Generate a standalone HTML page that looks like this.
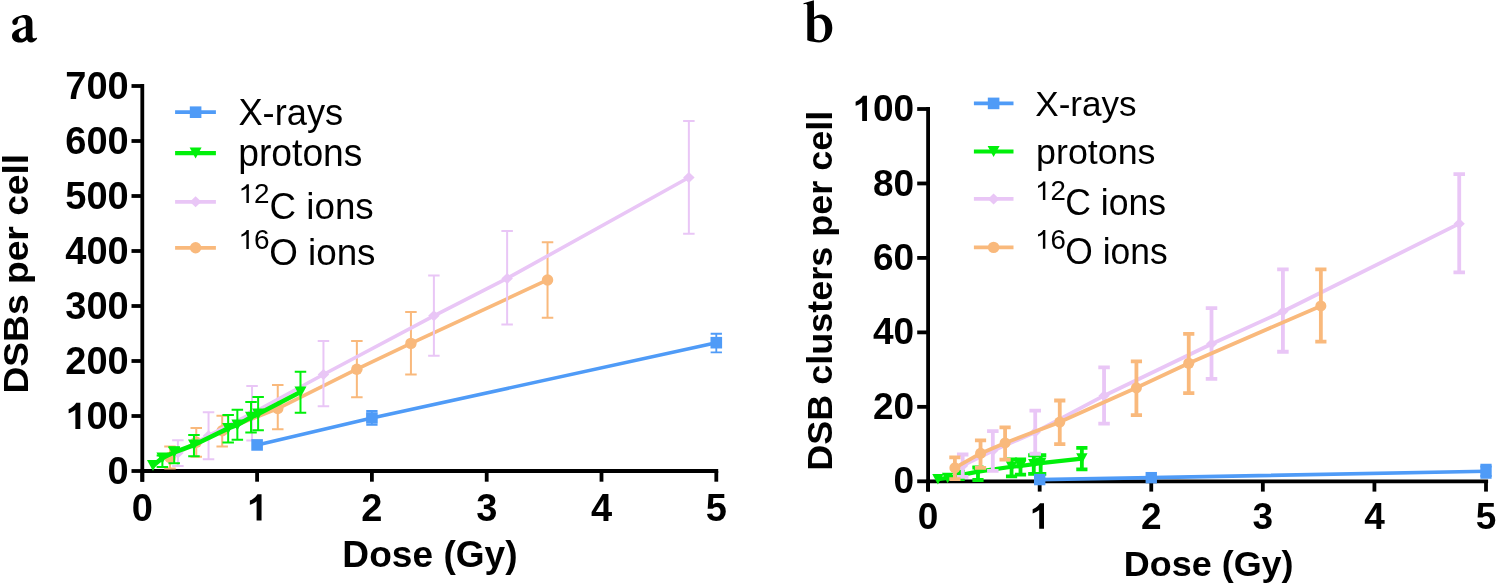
<!DOCTYPE html>
<html><head><meta charset="utf-8"><title>DSB chart</title>
<style>html,body{margin:0;padding:0;background:#fff;}svg{display:block;will-change:transform;}</style>
</head><body>
<svg width="1496" height="585" viewBox="0 0 1496 585">
<rect width="1496" height="585" fill="#fff"/>
<g transform="matrix(0.9766,0,0,0.9722,342.37,566.82)"><text x="0" y="0" font-family="'Liberation Sans', sans-serif" font-weight="bold" font-size="38">Dose (Gy)</text></g>
<g transform="matrix(0,-0.9787,0.9417,0,28.07,393.54)"><text x="0" y="0" font-family="'Liberation Sans', sans-serif" font-weight="bold" font-size="38">DSBs per cell</text></g>
<g transform="matrix(0.9542,0,0,0.9629,238.45,125.00)"><text x="0" y="0" font-family="'Liberation Sans', sans-serif" font-weight="normal" font-size="38">X-rays</text></g>
<g transform="matrix(0.9795,0,0,0.9970,238.26,166.02)"><text x="0" y="0" font-family="'Liberation Sans', sans-serif" font-weight="normal" font-size="38">protons</text></g>
<g transform="matrix(1.0720,0,0,1.0444,238.48,202.90)"><path transform="matrix(0.02600,0,0,-0.02600,0,0)" d="M373,0H285V548C250,515 190,478 109,450V533C165,555 222,592 258,632C275,651 288,670 297,688H373Z"/><text x="14.46" y="0" font-family="'Liberation Sans', sans-serif" font-weight="normal" font-size="26">2</text></g>
<g transform="matrix(0.9673,0,0,0.9750,269.57,218.80)"><text x="0" y="0" font-family="'Liberation Sans', sans-serif" font-weight="normal" font-size="38">C ions</text></g>
<g transform="matrix(1.0760,0,0,1.0611,238.37,249.10)"><path transform="matrix(0.02600,0,0,-0.02600,0,0)" d="M373,0H285V548C250,515 190,478 109,450V533C165,555 222,592 258,632C275,651 288,670 297,688H373Z"/><text x="14.46" y="0" font-family="'Liberation Sans', sans-serif" font-weight="normal" font-size="26">6</text></g>
<g transform="matrix(0.9689,0,0,0.9821,269.16,264.50)"><text x="0" y="0" font-family="'Liberation Sans', sans-serif" font-weight="normal" font-size="38">O ions</text></g>
<g transform="matrix(0.9719,0,0,0.9543,1123.76,575.57)"><text x="0" y="0" font-family="'Liberation Sans', sans-serif" font-weight="bold" font-size="37">Dose (Gy)</text></g>
<g transform="matrix(0,-0.9730,0.9486,0,831.71,470.85)"><text x="0" y="0" font-family="'Liberation Sans', sans-serif" font-weight="bold" font-size="37">DSB clusters per cell</text></g>
<g transform="matrix(0.9486,0,0,0.9676,1035.25,115.66)"><text x="0" y="0" font-family="'Liberation Sans', sans-serif" font-weight="normal" font-size="37">X-rays</text></g>
<g transform="matrix(0.9675,0,0,0.9697,1036.07,163.94)"><text x="0" y="0" font-family="'Liberation Sans', sans-serif" font-weight="normal" font-size="37">protons</text></g>
<g transform="matrix(1.0640,0,0,1.0389,1035.01,200.10)"><path transform="matrix(0.02600,0,0,-0.02600,0,0)" d="M373,0H285V548C250,515 190,478 109,450V533C165,555 222,592 258,632C275,651 288,670 297,688H373Z"/><text x="14.46" y="0" font-family="'Liberation Sans', sans-serif" font-weight="normal" font-size="26">2</text></g>
<g transform="matrix(0.9608,0,0,1.0111,1065.28,215.40)"><text x="0" y="0" font-family="'Liberation Sans', sans-serif" font-weight="normal" font-size="37">C ions</text></g>
<g transform="matrix(1.0640,0,0,1.0389,1035.01,248.70)"><path transform="matrix(0.02600,0,0,-0.02600,0,0)" d="M373,0H285V548C250,515 190,478 109,450V533C165,555 222,592 258,632C275,651 288,670 297,688H373Z"/><text x="14.46" y="0" font-family="'Liberation Sans', sans-serif" font-weight="normal" font-size="26">6</text></g>
<g transform="matrix(0.9577,0,0,0.9852,1065.28,263.60)"><text x="0" y="0" font-family="'Liberation Sans', sans-serif" font-weight="normal" font-size="37">O ions</text></g>
<path fill="#000" fill-rule="evenodd" d="M803.5,3.2L813.9,0.3L814.1,17.3C816,15.6 818.5,14.5 821,14.5C827.5,14.5 832.3,20 832.3,28C832.3,36.5 826.5,42.4 819,42.4C815.5,42.4 811,41.6 807.3,40.3L807.3,5.8C807.3,4.6 806.5,4.1 805.2,4.1L803.5,4.2ZM814.2,19.3C815.5,18.4 817,18 818.5,18C822.8,18 825.3,22 825.3,29C825.3,36.5 823,40.3 819.5,40.3C817.3,40.3 815.3,39.4 814.2,38.3Z"/>
<path fill="#000" fill-rule="evenodd" d="M12.3,22C12.3,19.5 15.5,17.5 19.1,16.2C21.5,15.3 23,15 24.5,15C29.5,15 32.4,17.5 32.4,22.5L32.5,36.5C32.5,37.8 33.3,38.3 34.2,38.3C35,38.3 35.8,37.9 36.4,37.4L37.2,38.5C35.8,40.6 33.6,42.5 31,42.5C29,42.5 27.6,41.2 27.1,39.4C25.5,41.3 23,42.6 19.8,42.6C15.2,42.6 12,40 12,36.3C12,32.3 15.3,30 20,28.5L25.8,26.3L25.8,22.5C25.8,19.3 24.5,17.5 22,17.5C20,17.5 18.3,18.5 17.9,20.5C17.9,23.2 17,25 14.8,25C13.2,25 12.3,23.7 12.3,22ZM25.8,28.2L25.8,36.2C24.8,37.8 23.5,38.7 22,38.7C20.2,38.7 18.8,37.2 18.8,34.6C18.8,31.6 21,29.8 25.8,28.2Z"/>
<g stroke="#000" fill="none" stroke-width="3.8">
<path d="M142.3,84.1V481.7"/>
<path d="M140.4,471.0H718.2"/>
<path d="M131.5,471H142.3"/>
<path d="M131.5,416H142.3"/>
<path d="M131.5,361H142.3"/>
<path d="M131.5,306H142.3"/>
<path d="M131.5,251H142.3"/>
<path d="M131.5,196H142.3"/>
<path d="M131.5,141H142.3"/>
<path d="M131.5,86H142.3"/>
<path d="M142.3,471.0V481.7"/>
<path d="M257.1,471.0V481.7"/>
<path d="M371.9,471.0V481.7"/>
<path d="M486.7,471.0V481.7"/>
<path d="M601.5,471.0V481.7"/>
<path d="M716.3,471.0V481.7"/>
</g>
<g fill="#000">
<text x="107.57" y="484" font-family="'Liberation Sans', sans-serif" font-weight="bold" font-size="38">0</text>
<path transform="matrix(0.03800,0,0,-0.03800,65.3,429)" d="M395,0H265V505C215,462 150,430 88,413V526C140,546 195,580 232,620C258,648 275,670 288,688H395Z"/><text x="86.43" y="429" font-family="'Liberation Sans', sans-serif" font-weight="bold" font-size="38">0</text><text x="107.57" y="429" font-family="'Liberation Sans', sans-serif" font-weight="bold" font-size="38">0</text>
<text x="65.3" y="374" font-family="'Liberation Sans', sans-serif" font-weight="bold" font-size="38">2</text><text x="86.43" y="374" font-family="'Liberation Sans', sans-serif" font-weight="bold" font-size="38">0</text><text x="107.57" y="374" font-family="'Liberation Sans', sans-serif" font-weight="bold" font-size="38">0</text>
<text x="65.3" y="319" font-family="'Liberation Sans', sans-serif" font-weight="bold" font-size="38">3</text><text x="86.43" y="319" font-family="'Liberation Sans', sans-serif" font-weight="bold" font-size="38">0</text><text x="107.57" y="319" font-family="'Liberation Sans', sans-serif" font-weight="bold" font-size="38">0</text>
<text x="65.3" y="264" font-family="'Liberation Sans', sans-serif" font-weight="bold" font-size="38">4</text><text x="86.43" y="264" font-family="'Liberation Sans', sans-serif" font-weight="bold" font-size="38">0</text><text x="107.57" y="264" font-family="'Liberation Sans', sans-serif" font-weight="bold" font-size="38">0</text>
<text x="65.3" y="209" font-family="'Liberation Sans', sans-serif" font-weight="bold" font-size="38">5</text><text x="86.43" y="209" font-family="'Liberation Sans', sans-serif" font-weight="bold" font-size="38">0</text><text x="107.57" y="209" font-family="'Liberation Sans', sans-serif" font-weight="bold" font-size="38">0</text>
<text x="65.3" y="154" font-family="'Liberation Sans', sans-serif" font-weight="bold" font-size="38">6</text><text x="86.43" y="154" font-family="'Liberation Sans', sans-serif" font-weight="bold" font-size="38">0</text><text x="107.57" y="154" font-family="'Liberation Sans', sans-serif" font-weight="bold" font-size="38">0</text>
<text x="65.3" y="99" font-family="'Liberation Sans', sans-serif" font-weight="bold" font-size="38">7</text><text x="86.43" y="99" font-family="'Liberation Sans', sans-serif" font-weight="bold" font-size="38">0</text><text x="107.57" y="99" font-family="'Liberation Sans', sans-serif" font-weight="bold" font-size="38">0</text>
<text x="131.73" y="520.5" font-family="'Liberation Sans', sans-serif" font-weight="bold" font-size="38">0</text>
<path transform="matrix(0.03800,0,0,-0.03800,246.53,520.5)" d="M395,0H265V505C215,462 150,430 88,413V526C140,546 195,580 232,620C258,648 275,670 288,688H395Z"/>
<text x="361.33" y="520.5" font-family="'Liberation Sans', sans-serif" font-weight="bold" font-size="38">2</text>
<text x="476.13" y="520.5" font-family="'Liberation Sans', sans-serif" font-weight="bold" font-size="38">3</text>
<text x="590.93" y="520.5" font-family="'Liberation Sans', sans-serif" font-weight="bold" font-size="38">4</text>
<text x="705.73" y="520.5" font-family="'Liberation Sans', sans-serif" font-weight="bold" font-size="38">5</text>
</g>
<path d="M169.97,446.58V468.42M164.22,446.58H175.72M164.22,468.42H175.72" stroke="#f9b97c" stroke-width="2" fill="none"/>
<path d="M196.26,427.99V456.7M190.51,427.99H202.01M190.51,456.7H202.01" stroke="#f9b97c" stroke-width="2" fill="none"/>
<path d="M222.2,415.78V446.58M216.45,415.78H227.95M216.45,446.58H227.95" stroke="#f9b97c" stroke-width="2" fill="none"/>
<path d="M277.76,384.98V429.31M272.01,384.98H283.51M272.01,429.31H283.51" stroke="#f9b97c" stroke-width="2" fill="none"/>
<path d="M356.86,340.92V397.3M351.11,340.92H362.61M351.11,397.3H362.61" stroke="#f9b97c" stroke-width="2" fill="none"/>
<path d="M410.93,311.88V374.58M405.18,311.88H416.68M405.18,374.58H416.68" stroke="#f9b97c" stroke-width="2" fill="none"/>
<path d="M547.54,242.2V317.82M541.79,242.2H553.29M541.79,317.82H553.29" stroke="#f9b97c" stroke-width="2" fill="none"/>
<polyline points="169.97,457.52 196.26,442.29 222.2,430.69 277.76,408.52 356.86,369.19 410.93,343.4 547.54,279.99" stroke="#f9b97c" stroke-width="3.6" fill="none" stroke-linejoin="round"/>
<circle cx="169.97" cy="457.52" r="5.7" fill="#f9b97c"/>
<circle cx="196.26" cy="442.29" r="5.7" fill="#f9b97c"/>
<circle cx="222.2" cy="430.69" r="5.7" fill="#f9b97c"/>
<circle cx="277.76" cy="408.52" r="5.7" fill="#f9b97c"/>
<circle cx="356.86" cy="369.19" r="5.7" fill="#f9b97c"/>
<circle cx="410.93" cy="343.4" r="5.7" fill="#f9b97c"/>
<circle cx="547.54" cy="279.99" r="5.7" fill="#f9b97c"/>
<path d="M177.89,440.2V466.11M172.14,440.2H183.64M172.14,466.11H183.64" stroke="#e9c6f6" stroke-width="2" fill="none"/>
<path d="M208.54,412.2V459.18M202.79,412.2H214.29M202.79,459.18H214.29" stroke="#e9c6f6" stroke-width="2" fill="none"/>
<path d="M252.05,385.92V440.58M246.3,385.92H257.8M246.3,440.58H257.8" stroke="#e9c6f6" stroke-width="2" fill="none"/>
<path d="M323.45,340.92V406.21M317.7,340.92H329.2M317.7,406.21H329.2" stroke="#e9c6f6" stroke-width="2" fill="none"/>
<path d="M433.89,275.58V355.72M428.14,275.58H439.64M428.14,355.72H439.64" stroke="#e9c6f6" stroke-width="2" fill="none"/>
<path d="M507.13,231.09V324.59M501.38,231.09H512.88M501.38,324.59H512.88" stroke="#e9c6f6" stroke-width="2" fill="none"/>
<path d="M688.86,121.09V233.78M683.11,121.09H694.61M683.11,233.78H694.61" stroke="#e9c6f6" stroke-width="2" fill="none"/>
<polyline points="177.89,453.01 208.54,435.69 252.05,413.25 323.45,374.53 433.89,315.79 507.13,278.39 688.86,177.52" stroke="#e9c6f6" stroke-width="3.6" fill="none" stroke-linejoin="round"/>
<path d="M177.89,447.51L183.64,453.01L177.89,458.51L172.14,453.01Z" fill="#e9c6f6"/>
<path d="M208.54,430.19L214.29,435.69L208.54,441.19L202.79,435.69Z" fill="#e9c6f6"/>
<path d="M252.05,407.75L257.8,413.25L252.05,418.75L246.3,413.25Z" fill="#e9c6f6"/>
<path d="M323.45,369.03L329.2,374.53L323.45,380.03L317.7,374.53Z" fill="#e9c6f6"/>
<path d="M433.89,310.29L439.64,315.79L433.89,321.29L428.14,315.79Z" fill="#e9c6f6"/>
<path d="M507.13,272.89L512.88,278.39L507.13,283.89L501.38,278.39Z" fill="#e9c6f6"/>
<path d="M688.86,172.02L694.61,177.52L688.86,183.02L683.11,177.52Z" fill="#e9c6f6"/>
<path d="M371.9,411V424.96M366.25,411H377.55M366.25,424.96H377.55" stroke="#4f9bf7" stroke-width="1.8" fill="none"/>
<path d="M716.3,333.77V352.42M710.65,333.77H721.95M710.65,352.42H721.95" stroke="#4f9bf7" stroke-width="1.8" fill="none"/>
<polyline points="257.1,444.93 371.9,417.98 716.3,342.68" stroke="#4f9bf7" stroke-width="3.6" fill="none" stroke-linejoin="round"/>
<rect x="251.3" y="439.13" width="11.6" height="11.6" fill="#4f9bf7"/>
<rect x="366.1" y="412.18" width="11.6" height="11.6" fill="#4f9bf7"/>
<rect x="710.5" y="336.88" width="11.6" height="11.6" fill="#4f9bf7"/>
<path d="M162.39,455.6V466.99M156.64,455.6H168.14M156.64,466.99H168.14" stroke="#00f00a" stroke-width="2" fill="none"/>
<path d="M174.21,447.3V463.3M168.46,447.3H179.96M168.46,463.3H179.96" stroke="#00f00a" stroke-width="2" fill="none"/>
<path d="M193.96,434.92V456.2M188.21,434.92H199.71M188.21,456.2H199.71" stroke="#00f00a" stroke-width="2" fill="none"/>
<path d="M228.17,415.01V442.62M222.42,415.01H233.92M222.42,442.62H233.92" stroke="#00f00a" stroke-width="2" fill="none"/>
<path d="M237.35,409.78V439.7M231.6,409.78H243.1M231.6,439.7H243.1" stroke="#00f00a" stroke-width="2" fill="none"/>
<path d="M251.02,402.08V432.39M245.27,402.08H256.77M245.27,432.39H256.77" stroke="#00f00a" stroke-width="2" fill="none"/>
<path d="M258.13,397.02V430.3M252.38,397.02H263.88M252.38,430.3H263.88" stroke="#00f00a" stroke-width="2" fill="none"/>
<path d="M300.49,371.73V412.7M294.74,371.73H306.24M294.74,412.7H306.24" stroke="#00f00a" stroke-width="2" fill="none"/>
<polyline points="152.98,465.61 162.39,458.02 174.21,452.3 193.96,444.99 228.17,428.43 237.35,424.96 251.02,417.26 258.13,414.07 300.49,392.02" stroke="#00f00a" stroke-width="4.6" fill="none" stroke-linejoin="round"/>
<path d="M146.98,460.11H158.98L152.98,471.11Z" fill="#00f00a"/>
<path d="M156.39,452.52H168.39L162.39,463.52Z" fill="#00f00a"/>
<path d="M168.21,446.8H180.21L174.21,457.8Z" fill="#00f00a"/>
<path d="M187.96,439.49H199.96L193.96,450.49Z" fill="#00f00a"/>
<path d="M222.17,422.93H234.17L228.17,433.93Z" fill="#00f00a"/>
<path d="M231.35,419.46H243.35L237.35,430.46Z" fill="#00f00a"/>
<path d="M245.02,411.76H257.02L251.02,422.76Z" fill="#00f00a"/>
<path d="M252.13,408.57H264.13L258.13,419.57Z" fill="#00f00a"/>
<path d="M294.49,386.52H306.49L300.49,397.52Z" fill="#00f00a"/>
<path d="M175.1,112.2H215.9" stroke="#4f9bf7" stroke-width="3.8"/>
<rect x="189.8" y="106.4" width="11.6" height="11.6" fill="#4f9bf7"/>
<path d="M175.1,153.1H215.9" stroke="#00f00a" stroke-width="4.2"/>
<path d="M189.6,147.6H201.6L195.6,158.6Z" fill="#00f00a"/>
<path d="M175.1,201.8H215.9" stroke="#e9c6f6" stroke-width="3.8"/>
<path d="M195.6,196.3L201.35,201.8L195.6,207.3L189.85,201.8Z" fill="#e9c6f6"/>
<path d="M175.1,247.8H215.9" stroke="#f9b97c" stroke-width="3.8"/>
<circle cx="195.6" cy="247.8" r="5.7" fill="#f9b97c"/>
<g stroke="#000" fill="none" stroke-width="3.8">
<path d="M928.1,107.1V491.6"/>
<path d="M926.2,481.3H1488.1"/>
<path d="M917.2,481.3H928.1"/>
<path d="M917.2,406.84H928.1"/>
<path d="M917.2,332.38H928.1"/>
<path d="M917.2,257.92H928.1"/>
<path d="M917.2,183.46H928.1"/>
<path d="M917.2,109H928.1"/>
<path d="M928.1,481.3V491.6"/>
<path d="M1039.68,481.3V491.6"/>
<path d="M1151.26,481.3V491.6"/>
<path d="M1262.84,481.3V491.6"/>
<path d="M1374.42,481.3V491.6"/>
<path d="M1486,481.3V491.6"/>
</g>
<g fill="#000">
<text x="893.52" y="493.4" font-family="'Liberation Sans', sans-serif" font-weight="bold" font-size="37">0</text>
<text x="872.94" y="418.94" font-family="'Liberation Sans', sans-serif" font-weight="bold" font-size="37">2</text><text x="893.52" y="418.94" font-family="'Liberation Sans', sans-serif" font-weight="bold" font-size="37">0</text>
<text x="872.94" y="344.48" font-family="'Liberation Sans', sans-serif" font-weight="bold" font-size="37">4</text><text x="893.52" y="344.48" font-family="'Liberation Sans', sans-serif" font-weight="bold" font-size="37">0</text>
<text x="872.94" y="270.02" font-family="'Liberation Sans', sans-serif" font-weight="bold" font-size="37">6</text><text x="893.52" y="270.02" font-family="'Liberation Sans', sans-serif" font-weight="bold" font-size="37">0</text>
<text x="872.94" y="195.56" font-family="'Liberation Sans', sans-serif" font-weight="bold" font-size="37">8</text><text x="893.52" y="195.56" font-family="'Liberation Sans', sans-serif" font-weight="bold" font-size="37">0</text>
<path transform="matrix(0.03700,0,0,-0.03700,852.37,121.1)" d="M395,0H265V505C215,462 150,430 88,413V526C140,546 195,580 232,620C258,648 275,670 288,688H395Z"/><text x="872.94" y="121.1" font-family="'Liberation Sans', sans-serif" font-weight="bold" font-size="37">0</text><text x="893.52" y="121.1" font-family="'Liberation Sans', sans-serif" font-weight="bold" font-size="37">0</text>
<text x="917.81" y="528.7" font-family="'Liberation Sans', sans-serif" font-weight="bold" font-size="37">0</text>
<path transform="matrix(0.03700,0,0,-0.03700,1029.39,528.7)" d="M395,0H265V505C215,462 150,430 88,413V526C140,546 195,580 232,620C258,648 275,670 288,688H395Z"/>
<text x="1140.97" y="528.7" font-family="'Liberation Sans', sans-serif" font-weight="bold" font-size="37">2</text>
<text x="1252.55" y="528.7" font-family="'Liberation Sans', sans-serif" font-weight="bold" font-size="37">3</text>
<text x="1364.13" y="528.7" font-family="'Liberation Sans', sans-serif" font-weight="bold" font-size="37">4</text>
<text x="1475.71" y="528.7" font-family="'Liberation Sans', sans-serif" font-weight="bold" font-size="37">5</text>
</g>
<path d="M959.12,471.62V479.07M953.52,471.62H964.72M953.52,479.07H964.72" stroke="#00f00a" stroke-width="3.8" fill="none"/>
<path d="M977.98,467.52V480M972.38,467.52H983.58M972.38,480H983.58" stroke="#00f00a" stroke-width="3.8" fill="none"/>
<path d="M1011.56,459.33V476.46M1005.96,459.33H1017.16M1005.96,476.46H1017.16" stroke="#00f00a" stroke-width="3.8" fill="none"/>
<path d="M1020.49,459.33V474.6M1014.89,459.33H1026.09M1014.89,474.6H1026.09" stroke="#00f00a" stroke-width="3.8" fill="none"/>
<path d="M1033.77,455.24V473.85M1028.17,455.24H1039.37M1028.17,473.85H1039.37" stroke="#00f00a" stroke-width="3.8" fill="none"/>
<path d="M1040.68,455.24V473.85M1035.08,455.24H1046.28M1035.08,473.85H1046.28" stroke="#00f00a" stroke-width="3.8" fill="none"/>
<path d="M1081.86,447.79V469.39M1076.26,447.79H1087.46M1076.26,469.39H1087.46" stroke="#00f00a" stroke-width="3.8" fill="none"/>
<polyline points="937.92,479.29 947.63,477.95 959.12,475.34 977.98,471.62 1011.56,466.78 1020.49,466.04 1033.77,464.17 1040.68,463.06 1081.86,458.59" stroke="#00f00a" stroke-width="4.2" fill="none" stroke-linejoin="round"/>
<path d="M932.22,474.06H943.62L937.92,484.51Z" fill="#00f00a"/>
<path d="M941.93,472.72H953.33L947.63,483.17Z" fill="#00f00a"/>
<path d="M953.42,470.12H964.82L959.12,480.57Z" fill="#00f00a"/>
<path d="M972.28,466.4H983.68L977.98,476.85Z" fill="#00f00a"/>
<path d="M1005.86,461.56H1017.26L1011.56,472.01Z" fill="#00f00a"/>
<path d="M1014.79,460.81H1026.19L1020.49,471.26Z" fill="#00f00a"/>
<path d="M1028.07,458.95H1039.47L1033.77,469.4Z" fill="#00f00a"/>
<path d="M1034.98,457.83H1046.38L1040.68,468.28Z" fill="#00f00a"/>
<path d="M1076.16,453.36H1087.56L1081.86,463.81Z" fill="#00f00a"/>
<path d="M962.69,454.49V476.83M956.94,454.49H968.44M956.94,476.83H968.44" stroke="#e9c6f6" stroke-width="3.8" fill="none"/>
<path d="M992.82,431.04V470.88M987.07,431.04H998.57M987.07,470.88H998.57" stroke="#e9c6f6" stroke-width="3.8" fill="none"/>
<path d="M1035.22,410.56V453.75M1029.47,410.56H1040.97M1029.47,453.75H1040.97" stroke="#e9c6f6" stroke-width="3.8" fill="none"/>
<path d="M1104.06,367.38V423.59M1098.31,367.38H1109.81M1098.31,423.59H1109.81" stroke="#e9c6f6" stroke-width="3.8" fill="none"/>
<path d="M1211.51,308.18V378.92M1205.76,308.18H1217.26M1205.76,378.92H1217.26" stroke="#e9c6f6" stroke-width="3.8" fill="none"/>
<path d="M1282.92,269.46V351.74M1277.17,269.46H1288.67M1277.17,351.74H1288.67" stroke="#e9c6f6" stroke-width="3.8" fill="none"/>
<path d="M1459.22,174.15V272.44M1453.47,174.15H1464.97M1453.47,272.44H1464.97" stroke="#e9c6f6" stroke-width="3.8" fill="none"/>
<polyline points="962.69,465.66 992.82,450.77 1035.22,432.16 1104.06,395.67 1211.51,343.92 1282.92,311.53 1459.22,223.67" stroke="#e9c6f6" stroke-width="3.8" fill="none" stroke-linejoin="round"/>
<path d="M962.69,460.33L968.27,465.66L962.69,471L957.11,465.66Z" fill="#e9c6f6"/>
<path d="M992.82,445.44L998.39,450.77L992.82,456.11L987.24,450.77Z" fill="#e9c6f6"/>
<path d="M1035.22,426.82L1040.79,432.16L1035.22,437.49L1029.64,432.16Z" fill="#e9c6f6"/>
<path d="M1104.06,390.34L1109.64,395.67L1104.06,401.01L1098.48,395.67Z" fill="#e9c6f6"/>
<path d="M1211.51,338.59L1217.09,343.92L1211.51,349.26L1205.94,343.92Z" fill="#e9c6f6"/>
<path d="M1282.92,306.2L1288.5,311.53L1282.92,316.87L1277.35,311.53Z" fill="#e9c6f6"/>
<path d="M1459.22,218.33L1464.8,223.67L1459.22,229L1453.64,223.67Z" fill="#e9c6f6"/>
<path d="M954.88,457.47V479.07M949.28,457.47H960.48M949.28,479.07H960.48" stroke="#f9b97c" stroke-width="3.8" fill="none"/>
<path d="M980.54,440.35V467.9M974.94,440.35H986.14M974.94,467.9H986.14" stroke="#f9b97c" stroke-width="3.8" fill="none"/>
<path d="M1005.09,427.32V459.71M999.49,427.32H1010.69M999.49,459.71H1010.69" stroke="#f9b97c" stroke-width="3.8" fill="none"/>
<path d="M1059.76,400.51V444.07M1054.16,400.51H1065.36M1054.16,444.07H1065.36" stroke="#f9b97c" stroke-width="3.8" fill="none"/>
<path d="M1136.42,361.42V415.03M1130.82,361.42H1142.02M1130.82,415.03H1142.02" stroke="#f9b97c" stroke-width="3.8" fill="none"/>
<path d="M1188.75,333.87V393.06M1183.15,333.87H1194.35M1183.15,393.06H1194.35" stroke="#f9b97c" stroke-width="3.8" fill="none"/>
<path d="M1320.86,269.46V341.69M1315.26,269.46H1326.46M1315.26,341.69H1326.46" stroke="#f9b97c" stroke-width="3.8" fill="none"/>
<polyline points="954.88,467.9 980.54,453.38 1005.09,442.95 1059.76,422.1 1136.42,387.85 1188.75,363.28 1320.86,305.95" stroke="#f9b97c" stroke-width="3.8" fill="none" stroke-linejoin="round"/>
<circle cx="954.88" cy="467.9" r="5.53" fill="#f9b97c"/>
<circle cx="980.54" cy="453.38" r="5.53" fill="#f9b97c"/>
<circle cx="1005.09" cy="442.95" r="5.53" fill="#f9b97c"/>
<circle cx="1059.76" cy="422.1" r="5.53" fill="#f9b97c"/>
<circle cx="1136.42" cy="387.85" r="5.53" fill="#f9b97c"/>
<circle cx="1188.75" cy="363.28" r="5.53" fill="#f9b97c"/>
<circle cx="1320.86" cy="305.95" r="5.53" fill="#f9b97c"/>
<path d="M1486,465.66V476.83M1480.4,465.66H1491.6M1480.4,476.83H1491.6" stroke="#4f9bf7" stroke-width="3.8" fill="none"/>
<polyline points="1039.68,479.59 1151.26,477.65 1486,471.25" stroke="#4f9bf7" stroke-width="3.6" fill="none" stroke-linejoin="round"/>
<rect x="1034" y="473.9" width="11.37" height="11.37" fill="#4f9bf7"/>
<rect x="1145.58" y="471.97" width="11.37" height="11.37" fill="#4f9bf7"/>
<rect x="1480.32" y="465.56" width="11.37" height="11.37" fill="#4f9bf7"/>
<path d="M973.9,103.4H1013.5" stroke="#4f9bf7" stroke-width="3.8"/>
<rect x="987.8" y="97.6" width="11.6" height="11.6" fill="#4f9bf7"/>
<path d="M973.9,151.5H1013.5" stroke="#00f00a" stroke-width="4.2"/>
<path d="M987.6,146H999.6L993.6,157Z" fill="#00f00a"/>
<path d="M973.9,198.9H1013.5" stroke="#e9c6f6" stroke-width="3.8"/>
<path d="M993.6,193.4L999.35,198.9L993.6,204.4L987.85,198.9Z" fill="#e9c6f6"/>
<path d="M973.9,247.4H1013.5" stroke="#f9b97c" stroke-width="3.8"/>
<circle cx="993.6" cy="247.4" r="5.7" fill="#f9b97c"/>
</svg>
</body></html>
